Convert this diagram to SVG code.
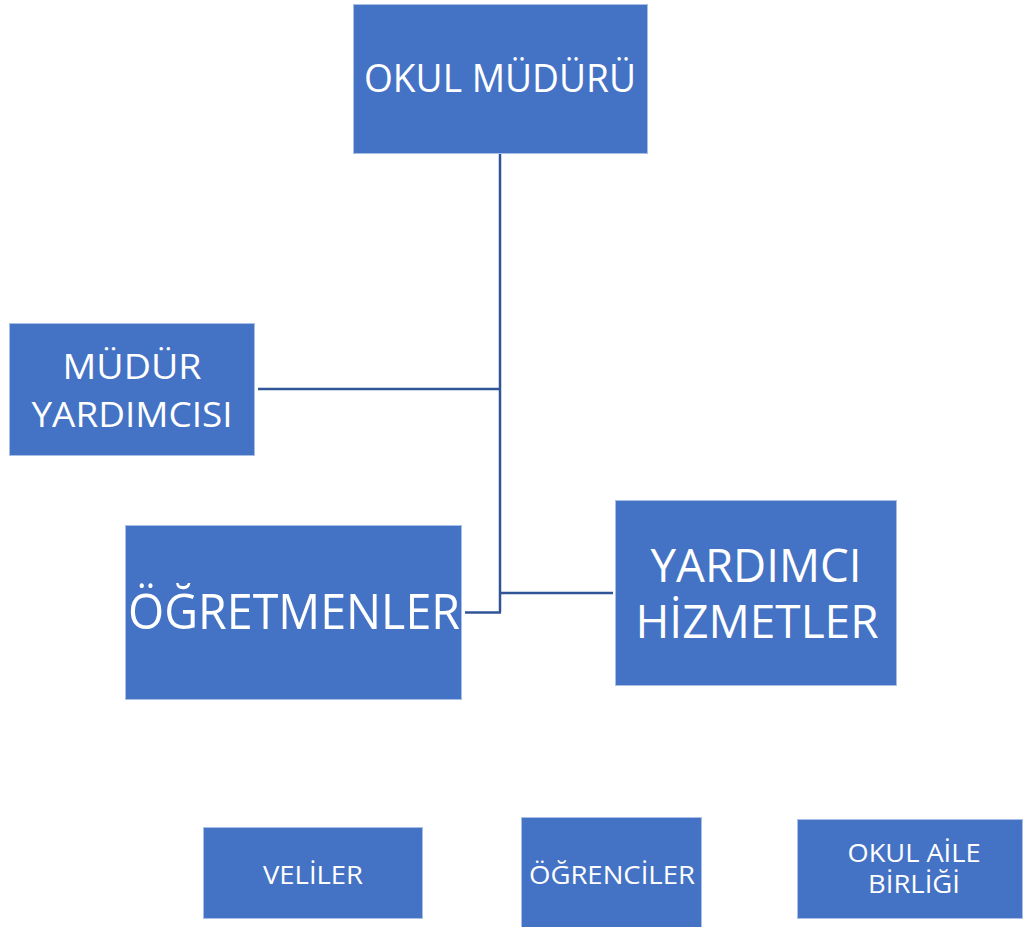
<svg xmlns="http://www.w3.org/2000/svg" width="1023" height="927" viewBox="0 0 1023 927">
<style>
.box{fill:#4472C4;stroke:#A9BFE6;stroke-width:1}
.t{fill:#ffffff;font-family:"Open Sans","Noto Sans","Liberation Sans",sans-serif;text-anchor:middle}
.c{fill:none;stroke:#2F5597;stroke-width:2.5}
</style>
<rect width="1023" height="927" fill="#ffffff"/>
<g id="connectors">
<path class="c" d="M500 154 V612"/>
<path class="c" d="M258 389 H500"/>
<path class="c" d="M500 593 H613"/>
<path class="c" d="M465 612.5 H501"/>
</g>
<g id="okul-muduru">
<rect class="box" x="353.5" y="4.5" width="294" height="149"/>
<text class="t" x="500" y="92" font-size="38" textLength="272" lengthAdjust="spacingAndGlyphs">OKUL MÜDÜRÜ</text>
</g>
<g id="mudur-yardimcisi">
<rect class="box" x="9.5" y="323.5" width="245" height="132"/>
<text class="t" x="132" y="379" font-size="34" textLength="139" lengthAdjust="spacingAndGlyphs">MÜDÜR</text>
<text class="t" x="132" y="427" font-size="34" textLength="201" lengthAdjust="spacingAndGlyphs">YARDIMCISI</text>
</g>
<g id="ogretmenler">
<rect class="box" x="125.5" y="525.5" width="336" height="174"/>
<text class="t" x="294" y="629" font-size="50" textLength="332" lengthAdjust="spacingAndGlyphs">ÖĞRETMENLER</text>
</g>
<g id="yardimci-hizmetler">
<rect class="box" x="615.5" y="500.5" width="281" height="185"/>
<text class="t" x="756" y="582" font-size="46" textLength="211" lengthAdjust="spacingAndGlyphs">YARDIMCI</text>
<text class="t" x="757" y="638" font-size="46" textLength="243" lengthAdjust="spacingAndGlyphs">HİZMETLER</text>
</g>
<g id="veliler">
<rect class="box" x="203.5" y="827.5" width="219" height="91"/>
<text class="t" x="313" y="884" font-size="25" textLength="100" lengthAdjust="spacingAndGlyphs">VELİLER</text>
</g>
<g id="ogrenciler">
<rect class="box" x="521.5" y="817.5" width="180" height="110"/>
<text class="t" x="612" y="884" font-size="25" textLength="166" lengthAdjust="spacingAndGlyphs">ÖĞRENCİLER</text>
</g>
<g id="okul-aile-birligi">
<rect class="box" x="797.5" y="819.5" width="225" height="99"/>
<text class="t" x="914" y="862" font-size="25" textLength="133" lengthAdjust="spacingAndGlyphs">OKUL AİLE</text>
<text class="t" x="914" y="893" font-size="25" textLength="92" lengthAdjust="spacingAndGlyphs">BİRLİĞİ</text>
</g>
</svg>
